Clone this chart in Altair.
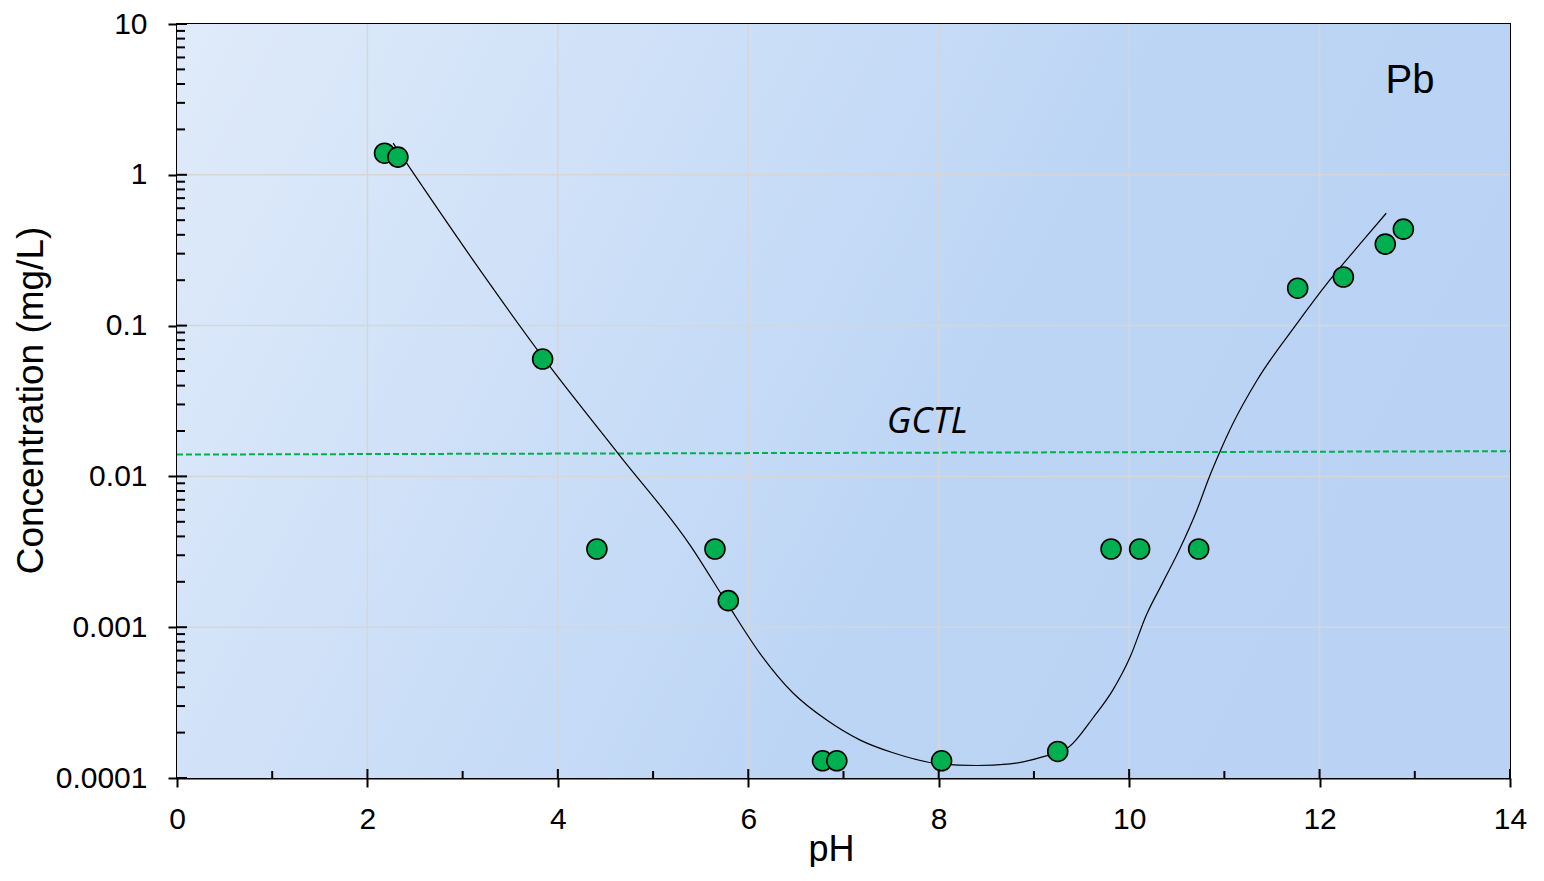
import altair as alt
import pandas as pd

# ---- data ----
ph = [2.18, 2.32, 3.84, 4.41, 5.65, 5.79, 6.78, 6.93, 8.03, 9.25, 9.81, 10.11, 10.73, 11.77, 12.25, 12.69, 12.88]
conc = [1.39, 1.31, 0.060, 0.0033, 0.0033, 0.0015, 0.00013, 0.00013, 0.00013, 0.00015,
        0.0033, 0.0033, 0.0033, 0.177, 0.210, 0.347, 0.436]

fit_ph = [2.27, 3.08, 3.84, 4.65, 5.39, 5.79, 6.12, 6.47, 6.82, 7.17, 7.52, 8.01, 8.40,
          8.75, 9.09, 9.37, 9.62, 9.83, 10.01, 10.18, 10.35, 10.53, 10.71, 10.84, 10.95, 11.09,
          11.34, 11.76, 12.10, 12.45, 12.70]
fit_conc = [1.62, 0.289, 0.062, 0.01375, 0.00349, 0.0014, 0.000674, 0.000366, 0.000243,
            0.000179, 0.000147, 0.000124, 0.000121, 0.000124, 0.000138, 0.000161, 0.00025,
            0.000384, 0.000634, 0.0012, 0.00196, 0.00329, 0.00595, 0.00984, 0.0144, 0.0224,
            0.0431, 0.1026, 0.1976, 0.363, 0.556]

gctl_ph = [0, 14]
gctl_conc = [0.01396, 0.01469]

x_major = [0, 2, 4, 6, 8, 10, 12, 14]
x_grid = [2, 4, 6, 8, 10, 12]
x_minor = [1, 3, 5, 7, 9, 11, 13]
y_major = [0.0001, 0.001, 0.01, 0.1, 1, 10]
y_grid = [0.001, 0.01, 0.1, 1]
y_minor = [k * 10.0 ** e for e in range(-4, 1) for k in range(2, 10)]

labels = ["GCTL", "Pb"]
label_ph = [7.88, 12.95]
label_conc = [0.0195, 3.5]

W, H = 1333, 754
FONT = "Liberation Sans"

xscale = alt.Scale(domain=[0, 14], nice=False, zero=False)
yscale = alt.Scale(type="log", domain=[0.0001, 10], nice=False)

xaxis = alt.Axis(values=x_major, grid=False, tickSize=9, tickWidth=2, tickColor="black",
                 domainColor="black", domainWidth=2, labelFont=FONT, labelFontSize=30,
                 labelColor="black", labelPadding=17, labelFlush=False, labelOverlap=False,
                 titleFont=FONT, titleFontSize=36, titleFontWeight="normal", titleColor="black",
                 titleX=654, titleY=82, titleBaseline="alphabetic", titleAnchor="start",
                 titleAlign="center")
yaxis = alt.Axis(values=y_major, grid=False, format="~g", tickSize=9, tickWidth=2,
                 tickColor="black", domainColor="black", domainWidth=2, labelFont=FONT,
                 labelFontSize=30, labelColor="black", labelPadding=21, labelOverlap=False,
                 labelFlush=False,
                 titleFont=FONT, titleFontSize=37, titleFontWeight="normal", titleColor="black",
                 titleX=-146, titleY=376, titleAngle=-90, titleBaseline="middle",
                 titleAlign="center", titleAnchor="start")


def X(f):
    return alt.X(f"{f}:Q", scale=xscale, axis=xaxis, title="pH")


def Y(f):
    return alt.Y(f"{f}:Q", scale=yscale, axis=yaxis, title="Concentration (mg/L)")


gradient = {
    "gradient": "linear", "x1": 0, "y1": 0, "x2": 1, "y2": 0.3,
    "stops": [
        {"offset": 0, "color": "#e0ebfa"},
        {"offset": 0.45, "color": "#c9ddf7"},
        {"offset": 0.7, "color": "#bcd5f5"},
        {"offset": 1, "color": "#bad3f4"},
    ],
}

bg = alt.Chart(alt.Data(values=[{}])).mark_rect(fill=gradient, stroke=None).encode(
    x=alt.value(0), x2=alt.value(W), y=alt.value(0), y2=alt.value(H))

gx = alt.Chart(pd.DataFrame({"v": x_grid})).mark_rule(color="#d6d6d6", strokeWidth=1.5).encode(
    x=X("v"), y=alt.value(0), y2=alt.value(H))
gy = alt.Chart(pd.DataFrame({"v": y_grid})).mark_rule(color="#d6d6d6", strokeWidth=1.5).encode(
    y=Y("v"), x=alt.value(0), x2=alt.value(W))

tx_major = alt.Chart(pd.DataFrame({"v": x_grid + [14]})).mark_rule(color="black", strokeWidth=2).encode(
    x=X("v"), y=alt.value(H - 9), y2=alt.value(H))
tx_minor = alt.Chart(pd.DataFrame({"v": x_minor})).mark_rule(color="black", strokeWidth=2).encode(
    x=X("v"), y=alt.value(H - 7), y2=alt.value(H))
ty_major = alt.Chart(pd.DataFrame({"v": y_major})).mark_rule(color="black", strokeWidth=2).encode(
    y=Y("v"), x=alt.value(0), x2=alt.value(10))
ty_minor = alt.Chart(pd.DataFrame({"v": y_minor})).mark_rule(color="black", strokeWidth=2).encode(
    y=Y("v"), x=alt.value(0), x2=alt.value(8))

gctl = alt.Chart(pd.DataFrame({"ph": gctl_ph, "c": gctl_conc})).mark_line(
    color="#00b050", strokeWidth=2, strokeDash=[6, 3]).encode(x=X("ph"), y=Y("c"))

fit = alt.Chart(pd.DataFrame({"ph": fit_ph, "c": fit_conc})).mark_line(
    color="black", strokeWidth=1.2, interpolate="monotone").encode(x=X("ph"), y=Y("c"))

pts = alt.Chart(pd.DataFrame({"ph": ph, "c": conc})).mark_circle(
    size=400, color="#00b050", opacity=1, stroke="black", strokeWidth=1.6).encode(
    x=X("ph"), y=Y("c"))

lab_df = pd.DataFrame({"t": labels, "ph": label_ph, "c": label_conc})
gctl_text = alt.Chart(lab_df[lab_df.t == "GCTL"]).mark_text(
    font="Open Sans", fontStyle="italic", fontSize=36, color="black", align="center",
    baseline="alphabetic").encode(x=X("ph"), y=Y("c"), text="t:N")
pb_text = alt.Chart(lab_df[lab_df.t == "Pb"]).mark_text(
    font=FONT, fontSize=40, color="black", align="center",
    baseline="alphabetic").encode(x=X("ph"), y=Y("c"), text="t:N")

chart = alt.layer(bg, gx, gy, gctl, fit, pts, tx_major, tx_minor, ty_major, ty_minor,
                  gctl_text, pb_text).properties(
    width=W, height=H,
    autosize=alt.AutoSizeParams(type="none"),
    padding={"left": 169, "top": 16, "right": 20, "bottom": 89},
).configure_view(stroke="black", strokeWidth=2)

chart.save("out.html", embed_options={"renderer": "svg", "actions": False})
